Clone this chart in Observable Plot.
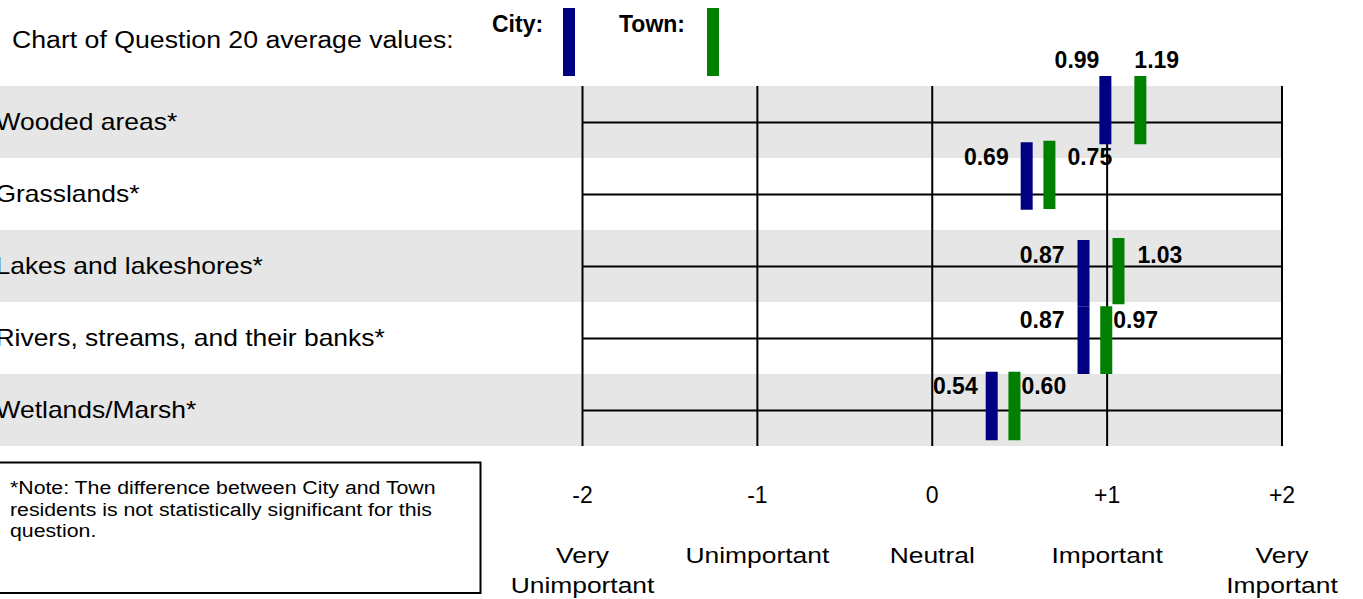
<!DOCTYPE html>
<html>
<head>
<meta charset="utf-8">
<script src="https://cdn.jsdelivr.net/npm/d3@7"></script>
<script src="https://cdn.jsdelivr.net/npm/@observablehq/plot@0.6"></script>
<style>
  html, body { margin: 0; padding: 0; background: #fff; }
  #wrap { position: relative; width: 1363px; height: 599px; overflow: hidden; font-family: "Liberation Sans", Arial, sans-serif; }
  #wrap > svg { position: absolute; left: 0; top: 0; }
</style>
</head>
<body>
<div id="wrap"></div>
<script>
// ---- data ----
const categories = ["Wooded areas*", "Grasslands*", "Lakes and lakeshores*", "Rivers, streams, and their banks*", "Wetlands/Marsh*"];
const cityValues = [0.99, 0.69, 0.87, 0.87, 0.54];   // printed labels
const townValues = [1.19, 0.75, 1.03, 0.97, 0.60];
const cityMarks = [0.99, 0.54, 0.865, 0.865, 0.34];  // where the markers sit on the scale
const townMarks = [1.19, 0.67, 1.065, 0.995, 0.47];
const cityTop = [-0.14, 0.78, 2.14, 3.06, 3.97];     // marker extents, in row units
const cityBottom = [0.81, 1.72, 3.06, 4.0, 4.92];
const townTop = [-0.14, 0.76, 2.11, 3.06, 3.97];
const townBottom = [0.81, 1.71, 3.03, 4.0, 4.92];
const tickValues = [-2, -1, 0, 1, 2];
const tickLabels = ["-2", "-1", "0", "+1", "+2"];
const tickWords = ["Very\nUnimportant", "Unimportant", "Neutral", "Important", "Very\nImportant"];
const seriesNames = ["City:", "Town:"];
const noteLines = ["*Note: The difference between City and Town", "residents is not statistically significant for this", "question."];
const titleText = "Chart of Question 20 average values:";

// ---- layout (not data) ----
const cityGap = [0, 12, 13, 13, 8];
const townGap = [-12, 12, 13, 1, 1];
const labelDy = [-16, 15, 15, 14, 14];
const NAVY = "#000080", GREEN = "#008000", BAND = "#e6e6e6";
const FONT = "Liberation Sans, Arial, sans-serif";

const rows = categories.map((c, i) => ({
  i, category: c,
  city: cityValues[i], town: townValues[i],
  cityMark: cityMarks[i], townMark: townMarks[i],
  cityTop: cityTop[i], cityBottom: cityBottom[i],
  townTop: townTop[i], townBottom: townBottom[i]
}));
const ticks = tickValues.map((v, i) => ({v, label: tickLabels[i], word: tickWords[i]}));

const labelMarks = rows.flatMap(r => [
  Plot.text([r], {x: "cityMark", y: "cityTop", text: d => d.city.toFixed(2), textAnchor: "end",
    dx: -(6 + cityGap[r.i]), dy: labelDy[r.i], fontSize: 23, fontWeight: "bold", fill: "black", lineAnchor: "middle"}),
  Plot.text([r], {x: "townMark", y: "cityTop", text: d => d.town.toFixed(2), textAnchor: "start",
    dx: 6 + townGap[r.i], dy: labelDy[r.i], fontSize: 23, fontWeight: "bold", fill: "black", lineAnchor: "middle"})
]);

const chart = Plot.plot({
  width: 1363, height: 599,
  marginLeft: 0, marginRight: 82, marginTop: 86, marginBottom: 153,
  style: {fontFamily: FONT, background: "transparent", overflow: "visible"},
  x: {domain: [-2, 2], range: [582, 1281.5], axis: null},
  y: {domain: [0, 5], range: [86, 446], axis: null},
  marks: [
    Plot.rect(rows.filter(r => r.i % 2 === 0), {y1: d => d.i, y2: d => d.i + 1, fill: BAND}),
    Plot.ruleX(ticks, {x: "v", y1: 0, y2: 5, stroke: "black", strokeWidth: 2}),
    Plot.ruleY(rows, {y: d => d.i + 0.5, x1: -2, x2: 2, stroke: "black", strokeWidth: 2}),
    Plot.text(rows, {y: d => d.i + 0.5, text: "category", frameAnchor: "left", textAnchor: "start", dx: -5,
      fontSize: 23, fill: "black", lineAnchor: "middle", ariaDescription: "category-labels"}),
    Plot.ruleX(rows, {x: "cityMark", y1: "cityTop", y2: "cityBottom", stroke: NAVY, strokeWidth: 12}),
    Plot.ruleX(rows, {x: "townMark", y1: "townTop", y2: "townBottom", stroke: GREEN, strokeWidth: 12}),
    ...labelMarks,
    Plot.text(ticks, {x: "v", text: "label", frameAnchor: "bottom", dy: 49, fontSize: 23, fill: "black", lineAnchor: "middle"}),
    Plot.text(ticks, {x: "v", text: "word", frameAnchor: "bottom", dy: 95, fontSize: 22, fill: "black", lineAnchor: "top",
      lineHeight: 1.38, ariaDescription: "scale-words"})
  ]
});
document.getElementById("wrap").appendChild(chart);

// widen glyphs horizontally about each text's anchor (start or middle)
function stretch(sel, k, anchor) {
  chart.querySelectorAll(sel).forEach(el => {
    const r = el.getBoundingClientRect();
    const sx = anchor === "start" ? r.left : r.left + r.width / 2;
    const parent = el.parentNode;
    const pt = chart.createSVGPoint();
    pt.x = sx; pt.y = r.top;
    const lp = pt.matrixTransform(parent.getScreenCTM().inverse());
    const g = document.createElementNS("http://www.w3.org/2000/svg", "g");
    g.setAttribute("transform", `translate(${lp.x},0) scale(${k},1) translate(${-lp.x},0)`);
    parent.insertBefore(g, el);
    g.appendChild(el);
  });
}
stretch('g[aria-description="category-labels"] text', 1.15, "start");
stretch('g[aria-description="scale-words"] text', 1.2, "middle");

// ---- title, legend and note overlay ----
const over = d3.select("#wrap").append("svg").attr("width", 1363).attr("height", 599)
  .style("font-family", FONT).style("pointer-events", "none");
over.append("text").attr("transform", "translate(12,48) scale(1.16,1)")
  .attr("font-size", 23).text(titleText);
const legend = [{name: seriesNames[0], tx: 492, bx: 563, color: NAVY}, {name: seriesNames[1], tx: 619, bx: 707, color: GREEN}];
legend.forEach(l => {
  over.append("text").attr("x", l.tx).attr("y", 32).attr("font-size", 23).attr("font-weight", "bold").text(l.name);
  over.append("rect").attr("x", l.bx).attr("y", 8).attr("width", 12).attr("height", 68).attr("fill", l.color);
});
over.append("rect").attr("x", -5).attr("y", 462.5).attr("width", 485.5).attr("height", 130.5)
  .attr("fill", "white").attr("stroke", "black").attr("stroke-width", 2);
noteLines.forEach((line, i) => {
  over.append("text").attr("transform", `translate(10,${494 + i * 21.5}) scale(1.12,1)`)
    .attr("font-size", 19).text(line);
});
</script>
</body>
</html>
